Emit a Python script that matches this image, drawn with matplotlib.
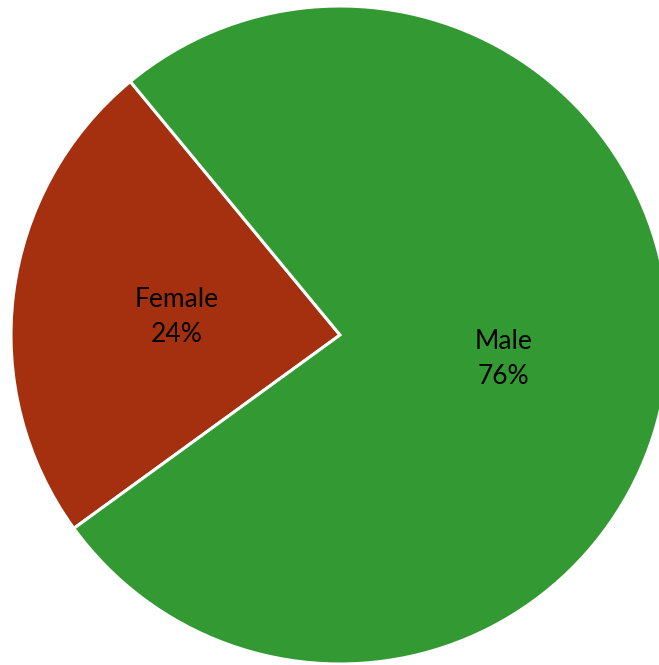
import matplotlib
matplotlib.use("Agg")
import matplotlib.pyplot as plt

labels = ["Female", "Male"]
values = [24, 76]
colors = ["#A5300F", "#339933"]

fig = plt.figure(figsize=(6.59, 6.65), dpi=100)
ax = fig.add_axes([0, 0, 1, 1])
R = 329.0
cx, cy = 340.0, 665 - 335.0

wedges, texts = ax.pie(values, colors=colors, startangle=129.6, counterclock=True,
                       radius=1.0,
                       wedgeprops=dict(edgecolor="white", linewidth=2.2),
                       labels=[f"{l}\n{v}%" for l, v in zip(labels, values)],
                       labeldistance=0.5)
for t in texts:
    t.set_fontsize(19)
    t.set_family(["Lato", "DejaVu Sans"])
    t.set_color("black")
    t.set_ha("center")
    t.set_va("center")
    t.set_linespacing(1.5)
    x, y = t.get_position()
    t.set_position((x, y - 3 / R))
ax.set_xlim(-cx / R, (659 - cx) / R)
ax.set_ylim(-cy / R, (665 - cy) / R)
ax.set_aspect("auto")
ax.axis("off")
fig.savefig("out.png", dpi=100, facecolor="white")
